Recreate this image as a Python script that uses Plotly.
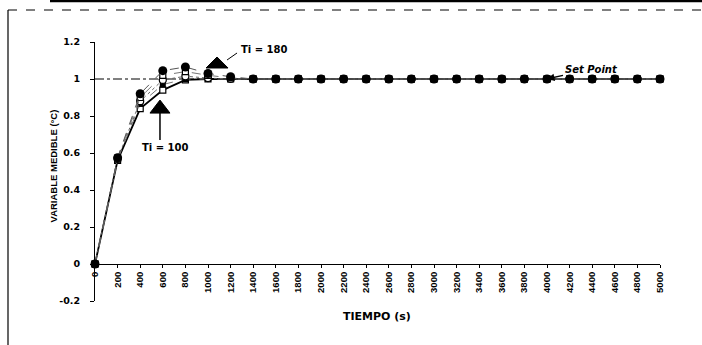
import plotly.graph_objects as go

# Time axis (s) and closed-loop response for several integral times
tiempo = list(range(0, 5001, 200))
ti_labels = ["Ti = 100", "Ti = 120", "Ti = 140", "Ti = 160", "Ti = 180"]
tail = [1.0] * 19  # 1400 s .. 5000 s settled at the set point
resp_100 = [0, 0.56, 0.84, 0.94, 0.995, 1.0, 1.0] + tail
resp_120 = [0, 0.565, 0.865, 0.97, 1.0, 1.0, 1.0] + tail
resp_140 = [0, 0.568, 0.88, 0.995, 1.015, 1.005, 1.0] + tail
resp_160 = [0, 0.572, 0.90, 1.02, 1.04, 1.02, 1.006] + tail
resp_180 = [0, 0.575, 0.92, 1.045, 1.065, 1.03, 1.012] + tail
set_point = [1.0] * len(tiempo)

y_ticks = [-0.2, 0, 0.2, 0.4, 0.6, 0.8, 1.0, 1.2]
y_ticktext = ["-0.2", "0", "0.2", "0.4", "0.6", "0.8", "1", "1.2"]

FONT = "Liberation Sans"
WIDE = "DejaVu Sans"

fig = go.Figure()

fig.add_trace(go.Scatter(
    x=tiempo, y=set_point, mode="lines", name="Set Point",
    line=dict(color="black", width=1, dash="dashdot"), cliponaxis=False))

# drawn bottom to top; the last one sits on top of the settled points
styles = [
    dict(line=dict(color="black", width=1.8),
         marker=dict(symbol="square", size=6, color="white",
                     line=dict(color="black", width=1.2))),
    dict(line=dict(color="#777", width=1, dash="dash"),
         marker=dict(symbol="square", size=6, color="black")),
    dict(line=dict(color="#666", width=1, dash="dot"),
         marker=dict(symbol="circle", size=7, color="white",
                     line=dict(color="black", width=1.2))),
    dict(line=dict(color="#777", width=1, dash="dash"),
         marker=dict(symbol="square", size=6, color="white",
                     line=dict(color="black", width=1.2))),
    dict(line=dict(color="#555", width=1, dash="dash"),
         marker=dict(symbol="circle", size=9, color="black")),
]
for name, resp, st in zip(ti_labels,
                          [resp_100, resp_120, resp_140, resp_160, resp_180],
                          styles):
    fig.add_trace(go.Scatter(x=tiempo, y=resp, mode="lines+markers", name=name,
                             cliponaxis=False, **st))

PW, PH = 565, 259  # plot-area size in pixels


def px_x(p):
    return (p - 95) / PW


def px_y(p):
    return (301 - p) / PH


shapes = [
    # outer frame
    dict(type="line", xref="paper", yref="paper", x0=px_x(8), x1=px_x(702),
         y0=px_y(10), y1=px_y(10), line=dict(color="black", width=1, dash="dash")),
    dict(type="line", xref="paper", yref="paper", x0=px_x(8), x1=px_x(8),
         y0=px_y(10), y1=px_y(345), line=dict(color="black", width=1.2)),
    dict(type="line", xref="paper", yref="paper", x0=px_x(50), x1=px_x(702),
         y0=px_y(1), y1=px_y(1), line=dict(color="black", width=2.5)),
    # marker triangles pointing at the curves
    dict(type="path", xref="x", yref="y", xsizemode="pixel", ysizemode="pixel",
         xanchor=1080, yanchor=1.119, path="M -11 -11 L 11 -11 L 0 0 Z",
         fillcolor="black", line=dict(color="black", width=1)),
    dict(type="path", xref="x", yref="y", xsizemode="pixel", ysizemode="pixel",
         xanchor=575, yanchor=0.886, path="M -10 -13 L 10 -13 L 0 0 Z",
         fillcolor="black", line=dict(color="black", width=1)),
    dict(type="path", xref="x", yref="y", xsizemode="pixel", ysizemode="pixel",
         xanchor=575, yanchor=0.886, path="M 0 -13 L 0 -40",
         line=dict(color="black", width=1.5)),
    dict(type="path", xref="x", yref="y", xsizemode="pixel", ysizemode="pixel",
         xanchor=1080, yanchor=1.119, path="M 10 -3 L 20 4",
         line=dict(color="black", width=1)),
]

annotations = [
    dict(text="<b>Ti = 180</b>", x=1500, y=1.157, showarrow=False,
         font=dict(family=WIDE, size=10, color="black")),
    dict(text="<b>Ti = 100</b>", x=620, y=0.632, showarrow=False,
         font=dict(family=WIDE, size=10, color="black")),
    dict(text="<b><i>Set Point</i></b>", x=4000, y=1.0, ax=44, ay=-10,
         showarrow=True, arrowhead=2, arrowsize=1, arrowwidth=1.5,
         arrowcolor="black", font=dict(family=WIDE, size=10, color="black")),
    dict(text="<b>VARIABLE MEDIBLE (°C)</b>", xref="paper", yref="paper",
         x=px_x(45), y=px_y(166), textangle=-90, showarrow=False,
         font=dict(family=FONT, size=9.5, color="black")),
    dict(text="<b>TIEMPO (s)</b>", xref="paper", yref="paper",
         x=px_x(377), y=px_y(325), showarrow=False,
         font=dict(family=WIDE, size=11, color="black")),
]

fig.update_layout(
    width=702, height=345,
    margin=dict(l=95, r=42, t=42, b=44),
    paper_bgcolor="white", plot_bgcolor="white",
    showlegend=False,
    shapes=shapes, annotations=annotations,
    xaxis=dict(range=[0, 5000], tickvals=tiempo, tickangle=-90,
               anchor="free", position=0.2 / 1.4,
               showgrid=False, zeroline=False, showline=True,
               linecolor="black", linewidth=1, ticks="outside", ticklen=3,
               tickcolor="black",
               tickfont=dict(family=FONT, size=9.5, color="black", weight="bold")),
    yaxis=dict(range=[-0.2, 1.2], tickvals=y_ticks, ticktext=y_ticktext,
               showgrid=False, zeroline=False, showline=True,
               linecolor="black", linewidth=1, ticks="outside", ticklen=4,
               tickcolor="black", ticklabelstandoff=8,
               tickfont=dict(family=WIDE, size=9.5, color="black", weight="bold")),
)

fig.write_html("out.html")
